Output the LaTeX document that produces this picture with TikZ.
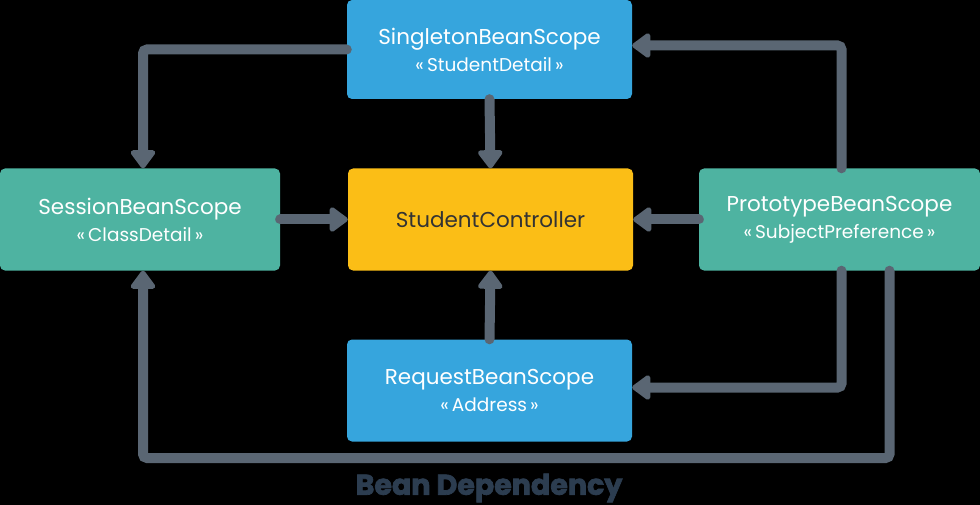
\documentclass[tikz,border=0pt]{standalone}
\usepackage{fontspec}
\setmainfont{Poppins}
\newfontfamily\headfont[BoldFeatures={FakeBold=2.5}]{Poppins}
\usepackage{tikz}
\usetikzlibrary{positioning, arrows.meta}
\usepackage{xcolor}

\definecolor{scopeblue}{HTML}{36A5DD}
\definecolor{scopeteal}{HTML}{4EB3A1}
\definecolor{ctrlyellow}{HTML}{FBBE16}
\definecolor{linkgray}{HTML}{5A6673}
\definecolor{titlenavy}{HTML}{2C3D50}

\newcommand{\stereo}[1]{{\fontsize{18.5}{22}\selectfont «\,#1\,»}}

\tikzset{
  scopebox/.style={rectangle, rounded corners=5pt, text=white, align=center,
                   minimum width=285pt, minimum height=102pt, inner sep=0pt,
                   font=\fontsize{21.5}{26}\selectfont},
  flow/.style={draw=linkgray, line width=10pt, rounded corners=4pt, line cap=round,
               -{Triangle[length=20pt,width=28pt,round]}},
}

\begin{document}
\begin{tikzpicture}[x=1pt, y=-1pt]
  \fill[black] (0,0) rectangle (980,505);
  \useasboundingbox (0,0) rectangle (980,505);

  % scopes
  \node[scopebox, fill=scopeblue, minimum height=99pt] (single) at (489.5,49.5)
       {SingletonBeanScope\\[1pt]\stereo{StudentDetail}};
  \node[scopebox, fill=scopeteal, minimum width=280pt] (session) at (140,219.5)
       {SessionBeanScope\\[1pt]\stereo{ClassDetail}};
  \node[scopebox, fill=ctrlyellow, text=black!80] (ctrl) at (490.5,219.5)
       {StudentController};
  \node[scopebox, fill=scopeteal, minimum width=281pt] (proto) at (839.5,219.5)
       {PrototypeBeanScope\\[1pt]\stereo{SubjectPreference}};
  \node[scopebox, fill=scopeblue] (request) at (489.5,390.5)
       {RequestBeanScope\\[1pt]\stereo{Address}};
  \coordinate (bus) at (143,458);

  % links
  \draw[flow] (single.west) -| ([xshift=3pt]session.north);
  \draw[flow] (single.south) -- (ctrl.north);
  \draw[flow] ([xshift=2pt]proto.north) |- ([yshift=4pt]single.east);
  \draw[flow] (session.east) -- (ctrl.west);
  \draw[flow] (proto.west) -- (ctrl.east);
  \draw[flow] (request.north) -- (ctrl.south);
  \draw[flow] ([xshift=2pt]proto.south) |- ([yshift=3pt]request.east);
  \draw[flow] ([xshift=50pt]proto.south) |- (bus) -- ([xshift=3pt]session.south);

  \node[text=titlenavy, font=\headfont\bfseries\fontsize{28.5}{32}\selectfont] (title) at (489,488)
       {Bean Dependency};
\end{tikzpicture}
\end{document}
